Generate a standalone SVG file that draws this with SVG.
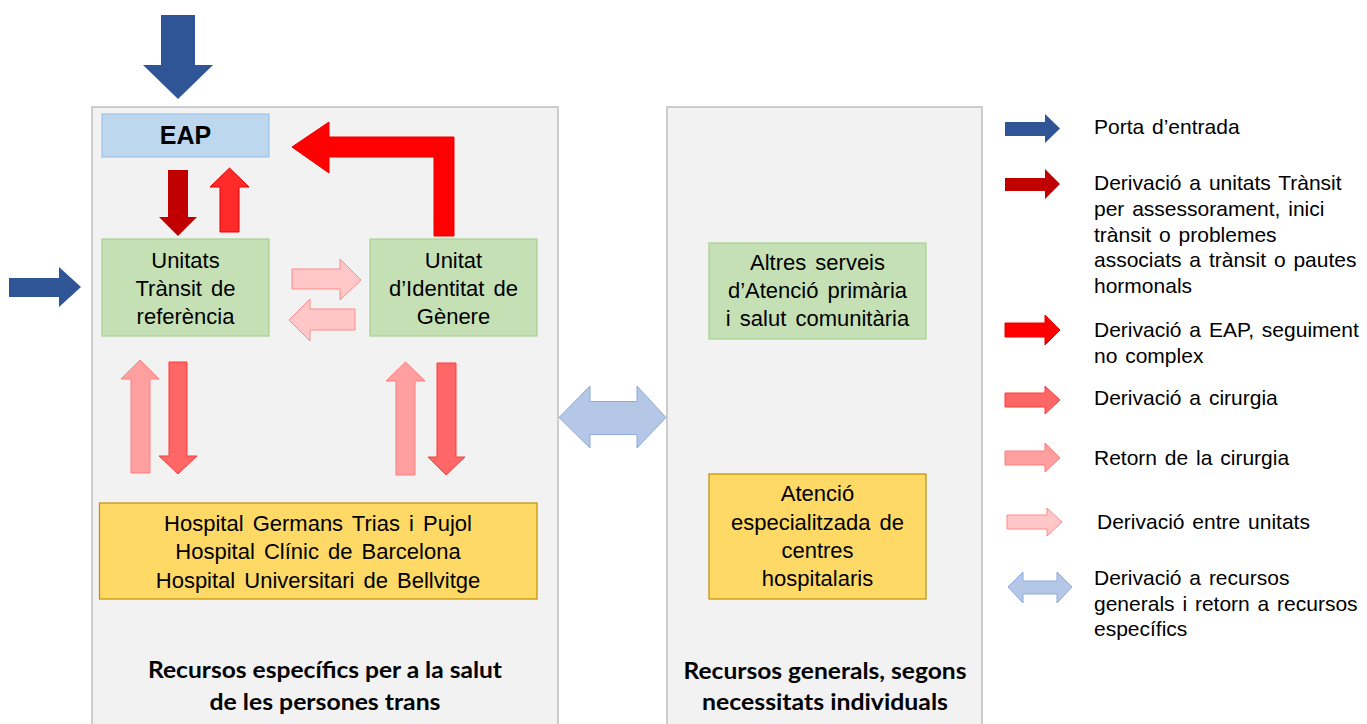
<svg xmlns="http://www.w3.org/2000/svg" width="1367" height="724" viewBox="0 0 1367 724">
<style>
.panel{fill:#f2f2f2;stroke:#bfbfbf;stroke-width:1.5}
.green{fill:#c5e0b4;stroke:#a9d18e;stroke-width:1.2}
.blue{fill:#bdd7ee;stroke:#9dc3e6;stroke-width:1.2}
.yellow{fill:#ffd966;stroke:#bf9000;stroke-width:1.2}
.t{font-family:"Liberation Sans",Arial,sans-serif;font-size:22px;fill:#000;text-anchor:middle;word-spacing:3px}
.lg{font-family:"Liberation Sans",Arial,sans-serif;font-size:21px;fill:#000;word-spacing:2px}
.title{font-family:Lato,"Open Sans",sans-serif;font-size:23px;font-weight:bold;fill:#000;text-anchor:middle}
.entry{fill:#2f5597}
.dred{fill:#c00000}
.red1{fill:#ff2b2b;stroke:#e00000;stroke-width:1}
.red{fill:#ff0000;stroke:#e60000;stroke-width:1}
.cir{fill:#ff6666;stroke:#ff3b3b;stroke-width:1}
.ret{fill:#ff9f9f;stroke:#ff7c7c;stroke-width:1}
.btw{fill:#ffc7c7;stroke:#ff8a8a;stroke-width:1}
.dbl{fill:#b4c7e7;stroke:#8faadc;stroke-width:1}
</style>
<g id="panel-specific">
<rect class="panel" x="92" y="107" width="466" height="625"/>
<text class="title" x="325" y="678" textLength="354" lengthAdjust="spacingAndGlyphs">Recursos específics per a la salut</text>
<text class="title" x="325" y="710" textLength="231" lengthAdjust="spacingAndGlyphs">de les persones trans</text>
</g>
<g id="panel-general">
<rect class="panel" x="667" y="107" width="315" height="625"/>
<text class="title" x="825" y="679" textLength="283" lengthAdjust="spacingAndGlyphs">Recursos generals, segons</text>
<text class="title" x="825" y="710" textLength="246" lengthAdjust="spacingAndGlyphs">necessitats individuals</text>
</g>
<g id="node-eap">
<rect class="blue" x="102" y="114" width="167" height="43"/>
<text class="t" x="185.5" y="144" style="font-size:25px;font-weight:bold">EAP</text>
</g>
<g id="node-unitats">
<rect class="green" x="102" y="239" width="167" height="97"/>
<text class="t" x="185.5" y="268">Unitats</text>
<text class="t" x="185.5" y="296">Trànsit de</text>
<text class="t" x="185.5" y="324">referència</text>
</g>
<g id="node-uig">
<rect class="green" x="370" y="239" width="167" height="97"/>
<text class="t" x="453.5" y="268">Unitat</text>
<text class="t" x="453.5" y="296">d’Identitat de</text>
<text class="t" x="453.5" y="324">Gènere</text>
</g>
<g id="node-hospitals">
<rect class="yellow" x="99.5" y="503" width="437.5" height="96"/>
<text class="t" x="318" y="531">Hospital Germans Trias i Pujol</text>
<text class="t" x="318" y="559">Hospital Clínic de Barcelona</text>
<text class="t" x="318" y="588">Hospital Universitari de Bellvitge</text>
</g>
<g id="node-altres">
<rect class="green" x="709" y="243" width="217" height="96"/>
<text class="t" x="817.5" y="270">Altres serveis</text>
<text class="t" x="817.5" y="298">d’Atenció primària</text>
<text class="t" x="817.5" y="326">i salut comunitària</text>
</g>
<g id="node-atencio">
<rect class="yellow" x="709" y="474" width="217" height="125"/>
<text class="t" x="817.5" y="501">Atenció</text>
<text class="t" x="817.5" y="530">especialitzada de</text>
<text class="t" x="817.5" y="558">centres</text>
<text class="t" x="817.5" y="586">hospitalaris</text>
</g>
<g id="connectors">
<polygon class="entry" points="161,15 195,15 195,65 213,65 178,99 143,65 161,65"/>
<polygon class="entry" points="9,278 59,278 59,267 81,287 59,307 59,297 9,297"/>
<polygon class="dred" points="168,170 188,170 188,217 197,217 178,236 159,217 168,217"/>
<polygon class="red1" points="220,232 239,232 239,187 249,187 229.5,168 210,187 220,187"/>
<polygon class="red" points="434,236 454,236 454,137 329,137 329,122 292,147 329,173 329,157 434,157"/>
<polygon class="btw" points="292,269 340,269 340,259 361,280 340,300 340,289 292,289"/>
<polygon class="btw" points="355,309 310,309 310,299 289,320 310,341 310,330 355,330"/>
<polygon class="ret" points="131,473 150,473 150,379 159,379 140,360 121,379 131,379"/>
<polygon class="cir" points="169,362 187,362 187,456 197,456 178,474 159,456 169,456"/>
<polygon class="ret" points="396,475 415,475 415,381 425,381 405.5,362 386,381 396,381"/>
<polygon class="cir" points="437,363 456,363 456,457 465,457 446,475 428,457 437,457"/>
<polygon class="dbl" points="559,417.5 590,386 590,401.5 637,401.5 637,386 666,417.5 637,448 637,434.5 590,434.5 590,448"/>
</g>
<g id="legend">
<polygon class="entry" points="1005,122 1045,122 1045,114 1060,128.5 1045,143 1045,136 1005,136"/>
<text class="lg" x="1094" y="134">Porta d’entrada</text>
<polygon class="dred" points="1005,178 1045,178 1045,169 1060,184 1045,199 1045,191 1005,191"/>
<text class="lg" x="1094" y="190">Derivació a unitats Trànsit</text>
<text class="lg" x="1094" y="216">per assessorament, inici</text>
<text class="lg" x="1094" y="242">trànsit o problemes</text>
<text class="lg" x="1094" y="267">associats a trànsit o pautes</text>
<text class="lg" x="1094" y="293">hormonals</text>
<polygon class="red" points="1005,323 1045,323 1045,315 1060,330 1045,345 1045,337 1005,337"/>
<text class="lg" x="1094" y="337">Derivació a EAP, seguiment</text>
<text class="lg" x="1094" y="363">no complex</text>
<polygon class="cir" points="1005,393 1045,393 1045,386 1060,400 1045,414 1045,407 1005,407"/>
<text class="lg" x="1094" y="405">Derivació a cirurgia</text>
<polygon class="ret" points="1005,451 1045,451 1045,443 1060,458 1045,472 1045,465 1005,465"/>
<text class="lg" x="1094" y="465">Retorn de la cirurgia</text>
<polygon class="btw" points="1007,515 1047,515 1047,508 1062,522 1047,536 1047,529 1007,529"/>
<text class="lg" x="1097" y="529">Derivació entre unitats</text>
<polygon class="dbl" points="1008,587 1023,572 1023,581 1057,581 1057,572 1072,587 1057,603 1057,594 1023,594 1023,603"/>
<text class="lg" x="1094" y="585">Derivació a recursos</text>
<text class="lg" x="1094" y="611">generals i retorn a recursos</text>
<text class="lg" x="1094" y="636">específics</text>
</g>
</svg>
